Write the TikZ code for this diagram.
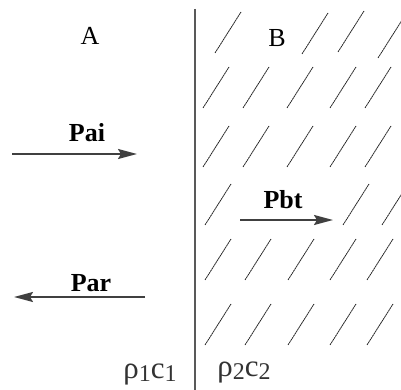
\documentclass[tikz,border=0pt]{standalone}
\usepackage{fontspec}
\setmainfont{Liberation Serif}
\usetikzlibrary{arrows.meta}
\tikzset{
  hatch/.style={line width=0.8pt, black!85, dash pattern=on 2pt off 0.5pt},
  wall/.style={line width=1.4pt, black!65},
  wave/.style={line width=2pt, black!75, -{Stealth[length=19pt,width=10pt,inset=3pt]}},
  region/.style={font=\fontsize{26}{30}\selectfont, anchor=base, inner sep=0pt},
  plabel/.style={font=\bfseries\fontsize{26}{30}\selectfont, anchor=base, inner sep=0pt},
  medium/.style={font=\fontsize{31}{34}\selectfont, anchor=base, inner sep=0pt, black!80}
}
\newcommand{\hs}[2]{\draw[hatch] (#1,#2) -- ++(26,-41);}
\newcommand{\subdig}[1]{\raisebox{-3pt}{\fontsize{24}{24}\selectfont #1}}
\begin{document}
\begin{tikzpicture}[x=1pt,y=-1pt]
\useasboundingbox (0,0) rectangle (401,390);
% wall
\coordinate (wtop) at (195,9);
\coordinate (wbot) at (195,390);
\draw[wall] (wtop) -- (wbot);
% hatching
\foreach \x/\y in {215/53, 302/54, 338/52, 378/58,
                   203/108, 243/108, 287/108, 330/108, 365/108,
                   203/167, 243/167, 287/167, 330/167, 365/167,
                   205/225, 343/225, 382/225,
                   205/280, 245/280, 288/280, 330/280, 367/280,
                   205/345, 245/345, 288/345, 330/345, 367/345}
  {\hs{\x}{\y}}
% labels
\node[region] (A) at (90,45) {A};
\node[region] (B) at (277,47) {B};
\node[plabel] (pai) at (87,142) {Pai};
\node[plabel] (pbt) at (283,208) {Pbt};
\node[plabel] (par) at (91,291) {Par};
\node[medium] (m1) at (150,378) {ρ\subdig{1}c\subdig{1}};
\node[medium] (m2) at (244,376) {ρ\subdig{2}c\subdig{2}};
% arrows
\coordinate (pai0) at (12,154);
\coordinate (pai1) at (137,154);
\coordinate (pbt0) at (240,220);
\coordinate (pbt1) at (333,220);
\coordinate (par0) at (145,297);
\coordinate (par1) at (14,297);
\draw[wave] (pai0) -- (pai1);
\draw[wave] (pbt0) -- (pbt1);
\draw[wave] (par0) -- (par1);
\end{tikzpicture}
\end{document}
